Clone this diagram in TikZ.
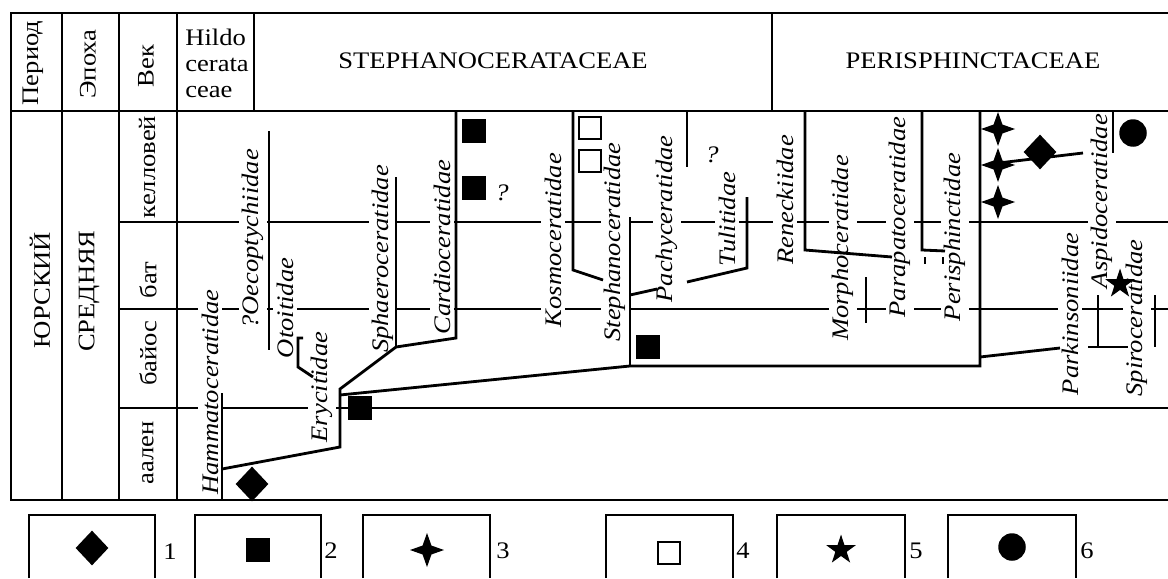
\documentclass[tikz,border=0pt]{standalone}
\usepackage{fontspec}
\setmainfont{Liberation Serif}[FakeStretch=1.12]
\usetikzlibrary{shapes.geometric}

\begin{document}
\begin{tikzpicture}[
  x=0.02cm, y=-0.02cm,
  every node/.style={font=\fontsize{13.5}{14.8}\selectfont},
  tabline/.style={line width=1.1pt},
  stageline/.style={line width=0.8pt},
  branch/.style={line width=1.6pt},
  taxon/.style={rotate=90, fill=white, inner sep=2pt, font=\fontsize{13.5}{14.8}\selectfont\itshape},
  vtext/.style={rotate=90, inner sep=0pt},
  blacksq/.style={rectangle, fill=black, inner sep=0pt, minimum size=0.48cm},
  opensq/.style={rectangle, draw, line width=0.9pt, inner sep=0pt, minimum size=0.44cm},
  rhomb/.style={diamond, fill=black, inner sep=0pt, minimum width=0.66cm, minimum height=0.7cm},
  sparkle/.style={star, star points=4, star point ratio=2.7, fill=black, inner sep=0pt, minimum size=0.68cm},
  fivestar/.style={star, star points=5, star point ratio=2.6, fill=black, inner sep=0pt, minimum size=0.62cm},
  ball/.style={circle, fill=black, inner sep=0pt, minimum size=0.55cm},
  keybox/.style={line width=1pt}
]
\useasboundingbox (0,0) rectangle (1168,578);

\draw[stageline] (119,222) -- (1168,222);
\draw[stageline] (119,309) -- (1168,309);
\draw[stageline] (119,408) -- (1168,408);

\node[vtext] (period) at (33,63) {Период};
\node[vtext] (epoch) at (88,64) {Эпоха};
\node[vtext] (age) at (146,66) {Век};
\node[anchor=north west, align=left, inner sep=0pt] (hildo) at (185,29) {Hildo\\cerata\\ceae};
\node (steph) at (493,61) {STEPHANOCERATACEAE};
\node (peri) at (973,61) {PERISPHINCTACEAE};

\node[vtext] (jur) at (40,290) {ЮРСКИЙ};
\node[vtext] (mid) at (89,291) {СРЕДНЯЯ};
\node[vtext] (cal) at (147,167) {келловей};
\node[vtext] (bat) at (148,280) {бат};
\node[vtext] (baj) at (148,353) {байос};
\node[vtext] (aal) at (148,453) {аален};

\node[taxon] (hamm) at (210,392) {Hammatoceratidae};
\node[taxon] (oeco) at (253,239) {?Oecoptychiidae};
\node[taxon] (otoi) at (285,308) {Otoitidae};
\node[taxon] (eryc) at (322,387) {Erycitidae};
\node[taxon] (spha) at (383,259) {Sphaeroceratidae};
\node[taxon] (card) at (442,247) {Cardioceratidae};
\node[taxon] (kosm) at (553,240) {Kosmoceratidae};
\node[taxon] (stph) at (615,242) {Stephanoceratidae};
\node[taxon] (pach) at (667,219) {Pachyceratidae};
\node[taxon] (tuli) at (727,219) {Tulitidae};
\node[taxon] (rene) at (785,200) {Reneckiidae};
\node[taxon] (morp) at (843,248) {Morphoceratidae};
\node[taxon] (para) at (900,217) {Parapatoceratidae};
\node[taxon] (pers) at (955,237) {Perisphinctidae};
\node[taxon] (park) at (1070,314) {Parkinsoniidae};
\node[taxon] (aspi) at (1102,201) {Aspidoceratidae};
\node[taxon] (spir) at (1137,318) {Spiroceratidae};

\draw[tabline] (1168,13) -- (11,13) -- (11,500) -- (1168,500);
\draw[tabline] (11,111) -- (1168,111);
\draw[tabline] (62,13) -- (62,500);
\draw[tabline] (119,13) -- (119,500);
\draw[tabline] (177,13) -- (177,500);
\draw[tabline] (254,13) -- (254,111);
\draw[tabline] (772,13) -- (772,111);

\coordinate (hamtop) at (222,393);
\coordinate (hamfoot) at (222,500);
\coordinate (hamfork) at (222,469);
\coordinate (erylow) at (340,447);
\coordinate (erytop) at (340,389);
\coordinate (eryside) at (340,395);
\coordinate (sphfork) at (396,347);
\coordinate (cardfork) at (456,338);
\coordinate (stphfork) at (630,366);
\coordinate (persfork) at (980,366);

\draw[branch] (hamtop) -- (hamfoot);
\draw[branch] (hamfork) -- (erylow) -- (erytop) -- (sphfork) -- (cardfork) -- (456,111);
\draw[branch] (sphfork) -- (396,177);
\draw[branch] (eryside) -- (stphfork) -- (persfork) -- (980,111);
\draw[branch] (stphfork) -- (630,217);
\draw[branch] (269,131) -- (269,350);
\draw[branch] (303,338) -- (298,338) -- (298,367) -- (313,377);
\draw[branch] (573,111) -- (573,270) -- (603,280);
\draw[branch] (630,295) -- (657,289);
\draw[branch] (687,282) -- (747,268) -- (747,197);
\draw[branch] (687,111) -- (687,167);
\draw[branch] (805,111) -- (805,250) -- (892,257);
\draw[branch] (922,111) -- (922,250) -- (945,251);
\draw[branch] (925,257) -- (925,264);
\draw[branch] (943,257) -- (943,264);
\draw[branch] (866,277) -- (866,323);
\draw[branch] (980,357) -- (1060,348);
\draw[branch] (1098,295) -- (1098,347);
\draw[branch] (1088,347) -- (1128,347);
\draw[branch] (1155,295) -- (1155,347);
\draw[branch] (1113,111) -- (1113,153);
\draw[branch] (990,164) -- (1083,153);

\node[blacksq] (sq1) at (474,131) {};
\node[blacksq] (sq2) at (474,188) {};
\node (q1) at (502,193) {\itshape ?};
\node[opensq] (os1) at (590,128) {};
\node[opensq] (os2) at (590,161) {};
\node (q2) at (712,155) {\itshape ?};
\node[blacksq] (sq3) at (648,347) {};
\node[blacksq] (sq4) at (360,408) {};
\node[rhomb] (rh1) at (252,484) {};
\node[sparkle] (sp1) at (998,129) {};
\node[sparkle] (sp2) at (998,165) {};
\node[sparkle] (sp3) at (998,202) {};
\node[rhomb] (rh2) at (1040,152) {};
\node[ball] (bl1) at (1133,133) {};
\node[fivestar] (fs1) at (1120,284) {};

\draw[keybox] (29,578) -- (29,515) -- (155,515) -- (155,578);
\draw[keybox] (195,578) -- (195,515) -- (321,515) -- (321,578);
\draw[keybox] (363,578) -- (363,515) -- (490,515) -- (490,578);
\draw[keybox] (606,578) -- (606,515) -- (733,515) -- (733,578);
\draw[keybox] (777,578) -- (777,515) -- (905,515) -- (905,578);
\draw[keybox] (948,578) -- (948,515) -- (1076,515) -- (1076,578);
\node[rhomb] (key1) at (92,548) {};
\node[blacksq] (key2) at (258,550) {};
\node[sparkle] (key3) at (427,550) {};
\node[opensq] (key4) at (669,553) {};
\node[fivestar] (key5) at (841,550) {};
\node[ball] (key6) at (1012,547) {};
\node (n1) at (170,552) {1};
\node (n2) at (331,551) {2};
\node (n3) at (503,551) {3};
\node (n4) at (743,551) {4};
\node (n5) at (916,551) {5};
\node (n6) at (1087,551) {6};
\end{tikzpicture}
\end{document}
